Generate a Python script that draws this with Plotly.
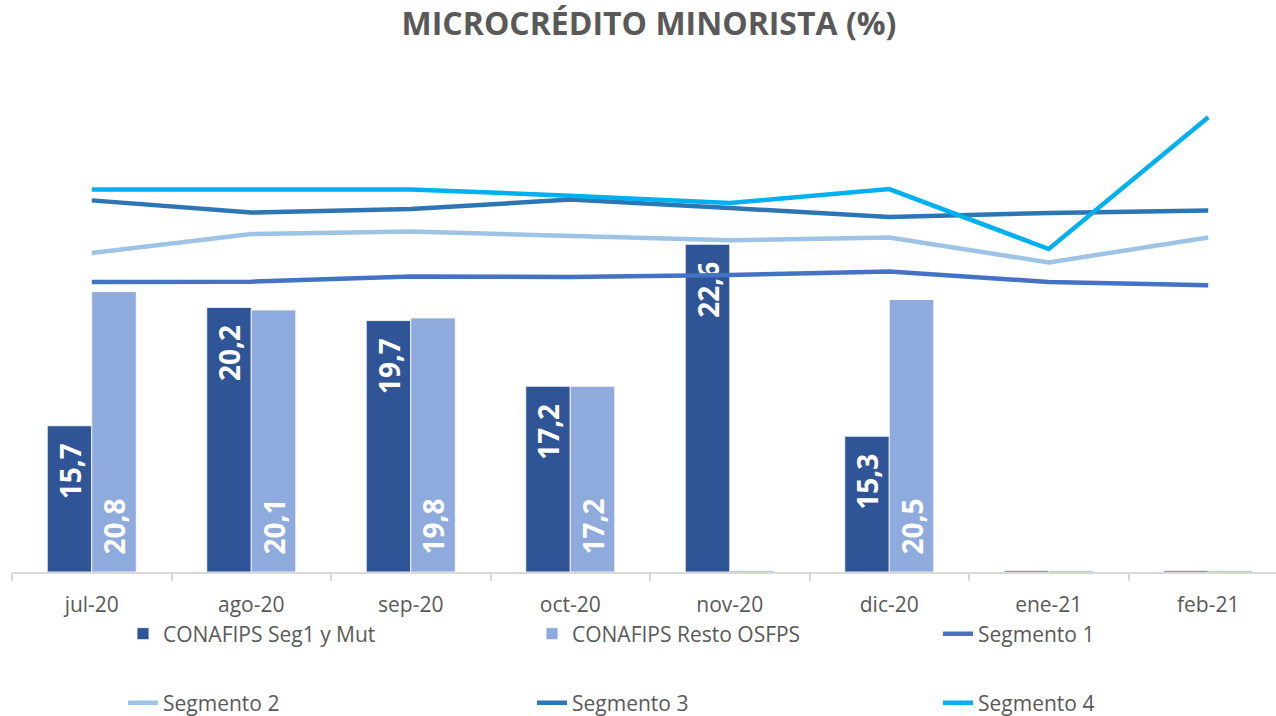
import plotly.graph_objects as go

# ---- data ----
categories = ["jul-20", "ago-20", "sep-20", "oct-20", "nov-20", "dic-20", "ene-21", "feb-21"]
conafips_seg1_mut = [15.7, 20.2, 19.7, 17.2, 22.6, 15.3, 0, 0]
conafips_resto = [20.8, 20.1, 19.8, 17.2, 0, 20.5, 0, 0]
segmento_1 = [21.17, 21.18, 21.38, 21.36, 21.43, 21.57, 21.17, 21.04]
segmento_2 = [22.27, 22.99, 23.09, 22.90, 22.75, 22.86, 21.91, 22.86]
segmento_3 = [24.27, 23.81, 23.94, 24.30, 23.98, 23.64, 23.79, 23.89]
segmento_4 = [24.68, 24.68, 24.68, 24.45, 24.17, 24.70, 22.42, 27.43]

TITLE = "MICROCRÉDITO MINORISTA (%)"
Y_MIN = 10.14
PX_PER_UNIT = 26.3
FONT = "Open Sans, sans-serif"
GREY = "#595959"
PAD = "\u00a0\u00a0"

W, H = 1276, 716
M_L, M_R, M_T, M_B = 12, 0, 60, 144
plot_h = H - M_T - M_B
plot_w = W - M_L - M_R
Y_MAX = Y_MIN + plot_h / PX_PER_UNIT
CAT_W = 159.5
X_MAX = -0.5 + plot_w / CAT_W


def fmt(v, top):
    if v <= 0:
        return ""
    s = ("%.1f" % v).replace(".", ",")
    return s + PAD if top else PAD + s


def heights(vals):
    # values below the axis minimum are drawn as a hairline at the axis
    return [max(v - Y_MIN, 0.06) for v in vals]


# legend slots: (legend id, text x in px, row centre y in px)
slots = {
    "legend": (166, 634), "legend2": (575, 634), "legend3": (981, 634),
    "legend4": (166, 703), "legend5": (575, 703), "legend6": (981, 703),
}

fig = go.Figure()

fig.add_trace(go.Bar(
    x=categories, y=heights(conafips_seg1_mut), base=Y_MIN,
    name="CONAFIPS Seg1 y Mut", marker=dict(color="#2F5597", line=dict(color="white", width=0.8)),
    text=[fmt(v, True) for v in conafips_seg1_mut], textposition="inside", insidetextanchor="end",
    textangle=-90, constraintext="none",
    textfont=dict(color="white", size=28, family=FONT, weight="bold"),
    legend="legend",
))
fig.add_trace(go.Bar(
    x=categories, y=heights(conafips_resto), base=Y_MIN,
    name="CONAFIPS Resto OSFPS", marker=dict(color="#8FAADC", line=dict(color="white", width=0.8)),
    text=[fmt(v, False) for v in conafips_resto], textposition="inside", insidetextanchor="start",
    textangle=-90, constraintext="none",
    textfont=dict(color="white", size=28, family=FONT, weight="bold"),
    legend="legend2",
))

line_specs = [
    ("Segmento 1", segmento_1, "#4472C4", "legend3"),
    ("Segmento 2", segmento_2, "#9DC3E6", "legend4"),
    ("Segmento 3", segmento_3, "#2E75B6", "legend5"),
    ("Segmento 4", segmento_4, "#00B0F0", "legend6"),
]
for name, vals, col, lg in line_specs:
    fig.add_trace(go.Scatter(
        x=categories, y=vals, name=name, mode="lines",
        line=dict(color=col, width=4.5), legend=lg,
    ))

layout_legends = {}
for key, (tx, cy) in slots.items():
    layout_legends[key] = dict(
        orientation="h", xanchor="left", yanchor="middle",
        x=(tx - 43 - M_L) / plot_w, y=-(cy - (M_T + plot_h)) / plot_h,
        font=dict(family=FONT, size=21, color=GREY),
        bgcolor="rgba(0,0,0,0)",
    )

fig.update_layout(
    width=W, height=H,
    margin=dict(l=M_L, r=M_R, t=M_T, b=M_B, autoexpand=False),
    paper_bgcolor="white", plot_bgcolor="white",
    barmode="group", bargap=0.442, bargroupgap=0,
    title=dict(text=TITLE, x=649 / W, xanchor="center", y=1 - 24 / H, yanchor="middle",
               font=dict(family=FONT, size=32, color=GREY, weight="bold")),
    xaxis=dict(
        range=[-0.5, X_MAX], showgrid=False, showline=True, linecolor="#D9D9D9", linewidth=1.5,
        ticks="outside", tickson="boundaries", ticklen=7, tickcolor="#D9D9D9", tickwidth=1.5,
        tickfont=dict(family=FONT, size=21, color=GREY), automargin=False,
        ticklabelstandoff=13,
    ),
    yaxis=dict(range=[Y_MIN, Y_MAX], visible=False, showgrid=False, zeroline=False),
    showlegend=True,
    **layout_legends,
)

fig.write_html(
    "out.html",
    config={"displayModeBar": False},
    post_script="document.body.style.margin='0';document.body.style.overflow='hidden';",
)
